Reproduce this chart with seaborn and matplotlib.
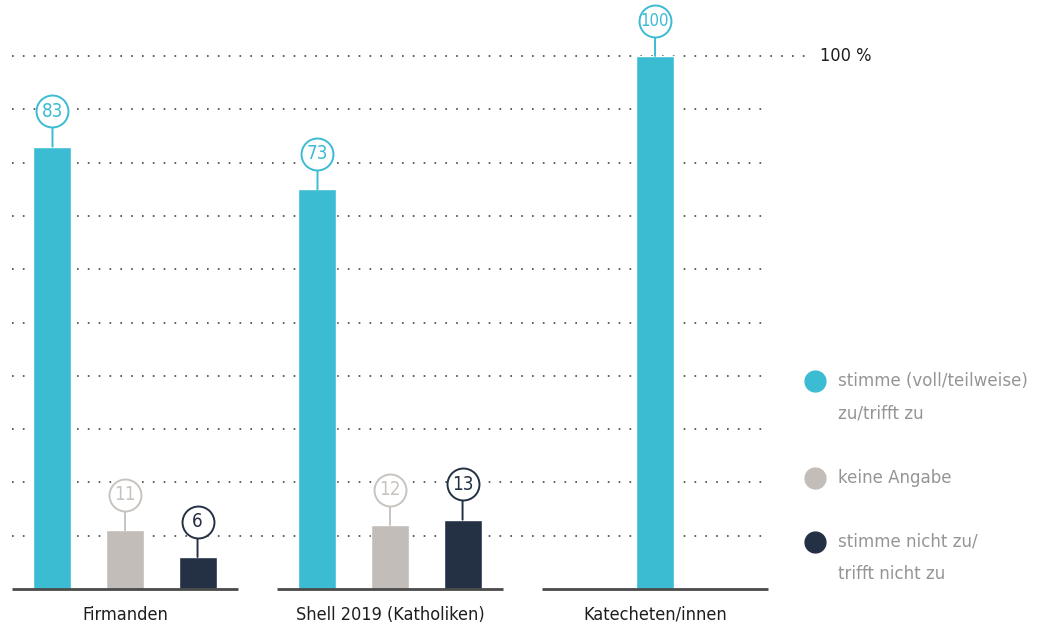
import matplotlib
matplotlib.use("Agg")
import matplotlib.pyplot as plt
import matplotlib.transforms as mtransforms
import seaborn as sns
import pandas as pd

# ---- data ----
groups = ["Firmanden", "Shell 2019 (Katholiken)", "Katecheten/innen"]
series = ["stimme (voll/teilweise)\nzu/trifft zu", "keine Angabe", "stimme nicht zu/\ntrifft nicht zu"]
firmanden_vals = [83, 11, 6]
shell_vals = [75, 12, 13]
katecheten_vals = [100]
firmanden_labels = ["83", "11", "6"]
shell_labels = ["73", "12", "13"]
katecheten_labels = ["100"]
grid_levels = [10, 20, 30, 40, 50, 60, 70, 80, 90, 100]

colors = ["#3bbcd3", "#c2bdb9", "#243044"]
label_colors = ["#3bbcd3", "#c8c3bf", "#243044"]

sns.set_style("white")
plt.rcParams["font.family"] = ["DejaVu Sans"]
plt.rcParams["font.stretch"] = "condensed"
plt.rcParams["lines.scale_dashes"] = False

W, H = 1041, 631
fig = plt.figure(figsize=(W / 100, H / 100), dpi=100)
px_per_unit_y = 533 / 100
ymax = 105
ax = fig.add_axes([12 / W, (H - 589) / H, 757 / W, ymax * px_per_unit_y / H])

df = pd.DataFrame({
    "group": [groups[0]] * 3 + [groups[1]] * 3,
    "series": series * 2,
    "value": firmanden_vals + shell_vals,
})
df_k = pd.DataFrame({"group": [groups[2]], "value": katecheten_vals})

sns.barplot(data=df, x="group", y="value", hue="series", order=groups,
            hue_order=series, palette=colors, width=0.821, gap=0.476,
            saturation=1, legend=False, ax=ax, zorder=3, err_kws={"linewidth": 0})
sns.barplot(data=df_k, x="group", y="value", order=groups, color=colors[0],
            width=0.1434, saturation=1, ax=ax, zorder=3, err_kws={"linewidth": 0})

ax.set_xlim(-0.4264, 2.430)
ax.set_ylim(0, ymax)
for s in ax.spines.values():
    s.set_visible(False)
ax.set_xlabel("")
ax.set_ylabel("")
ax.set_yticks([])
ax.tick_params(axis="x", length=0, pad=12, labelsize=13, labelcolor="#1e1e1e")

# dotted gridlines
ytr = ax.get_yaxis_transform()
for lv in grid_levels:
    xend = 1.054 if lv == 100 else 1.0
    ax.plot([0, xend], [lv, lv], transform=ytr, color="#444444", lw=1.2,
            linestyle=(0, (1.2, 6.6)), clip_on=False, zorder=1)
ax.text(1.067, 100, "100 %", transform=ytr, ha="left", va="center",
        fontsize=13, color="#1e1e1e")

# baseline segments
for i in range(len(groups)):
    ax.hlines(0, i - 0.428, i + 0.428, color="#4a4a4a", lw=2, zorder=4, clip_on=False)

# value bubbles
offset = 35.5
trans_up = mtransforms.offset_copy(ax.transData, fig=fig, y=offset, units="dots")
bars = [p for p in ax.patches if p.get_height() > 0]
bars.sort(key=lambda p: p.get_x())
all_labels = firmanden_labels + shell_labels + katecheten_labels
all_cols = [0, 1, 2, 0, 1, 2, 0]
for p, lab, ci in zip(bars, all_labels, all_cols):
    xc = p.get_x() + p.get_width() / 2
    top = p.get_height()
    ax.annotate("", xy=(xc, top), xytext=(0, offset), textcoords="offset pixels",
                arrowprops=dict(arrowstyle="-", color=label_colors[ci], lw=1.4,
                                shrinkA=0, shrinkB=0), zorder=5, annotation_clip=False)
    ax.plot([xc], [top], marker="o", ms=23, mfc="white", mec=label_colors[ci], mew=1.4,
            transform=trans_up, clip_on=False, zorder=6)
    ax.text(xc, top, lab, transform=trans_up, ha="center", va="center",
            fontsize=13.5 if len(lab) < 3 else 12, color=label_colors[ci],
            zorder=7, clip_on=False)

# legend
leg_y = [381, 478, 542]
for col, lab, yy in zip(colors, series, leg_y):
    fig.add_artist(plt.Line2D([815 / W], [1 - yy / H], marker="o", ms=15, color=col,
                              linestyle="none", transform=fig.transFigure))
    lines = lab.split("\n")
    for k, ln in enumerate(lines):
        fig.text(838 / W, 1 - (yy + 32 * k) / H, ln, ha="left", va="center",
                 fontsize=13.3, color="#959595")

fig.savefig("out.png", dpi=100)
